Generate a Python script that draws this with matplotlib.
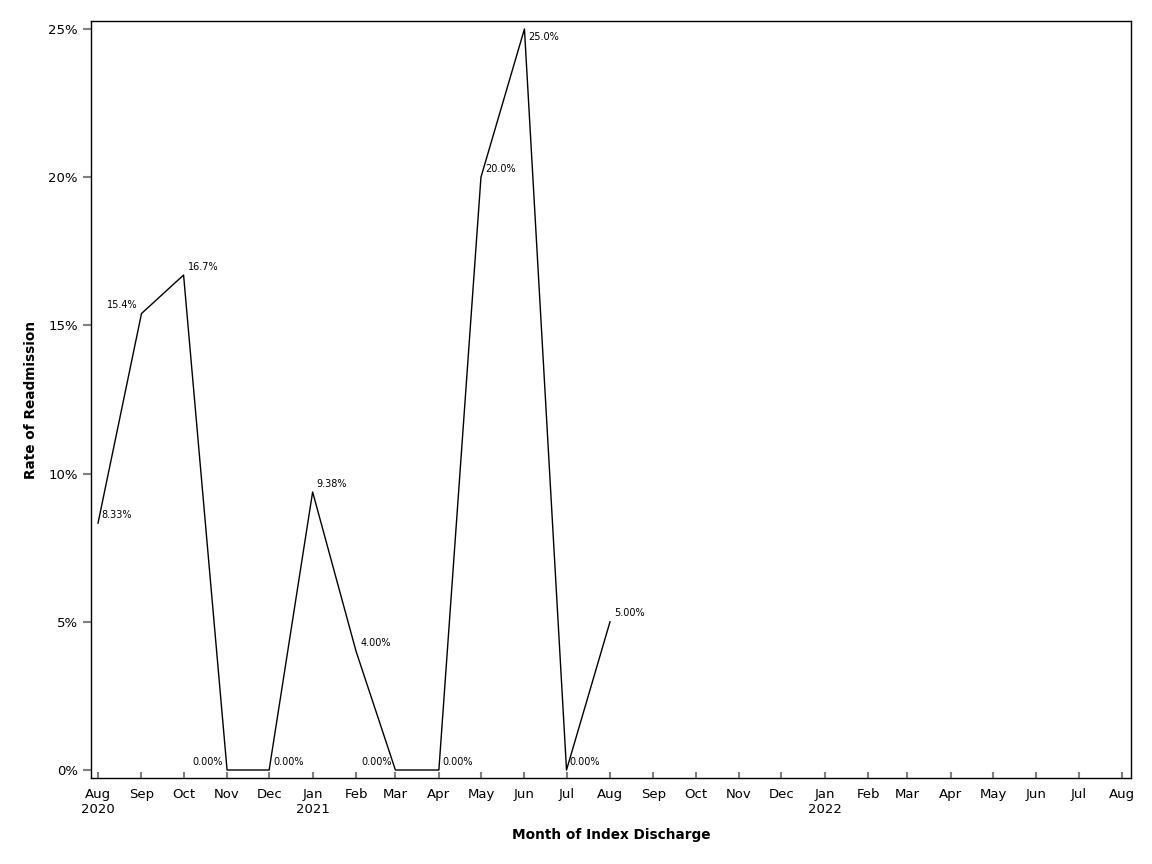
import matplotlib
matplotlib.use('Agg')
import matplotlib.pyplot as plt
from matplotlib.ticker import FuncFormatter
import datetime as dt

# Monthly readmission rates (%), Aug 2020 - Aug 2021
months = ['2020-08', '2020-09', '2020-10', '2020-11', '2020-12', '2021-01', '2021-02',
          '2021-03', '2021-04', '2021-05', '2021-06', '2021-07', '2021-08']
rates = [8.33, 15.4, 16.7, 0.0, 0.0, 9.38, 4.00, 0.0, 0.0, 20.0, 25.0, 0.0, 5.00]
labels = ['8.33%', '15.4%', '16.7%', '0.00%', '0.00%', '9.38%', '4.00%',
          '0.00%', '0.00%', '20.0%', '25.0%', '0.00%', '5.00%']
# label placement: (dx px, dy px, ha)
place = [(3, 8, 'left'), (-4, 9, 'right'), (4, 8, 'left'), (-4, 8, 'right'),
         (4, 8, 'left'), (4, 8, 'left'), (4, 8, 'left'), (-4, 8, 'right'),
         (4, 8, 'left'), (4, 8, 'left'), (4, -8, 'left'), (3, 8, 'left'),
         (4, 9, 'left')]

dates = [dt.datetime.strptime(m, '%Y-%m') for m in months]
tick_dates = [dt.datetime(2020 + (7 + i) // 12, (7 + i) % 12 + 1, 1) for i in range(25)]

plt.rcParams['font.family'] = 'DejaVu Sans'

fig = plt.figure(figsize=(11.52, 8.64), dpi=100)
ax = fig.add_axes([91 / 1152, 1 - 778 / 864, 1040 / 1152, 757 / 864])

ax.plot(dates, rates, color='black', linewidth=1)

for d, v, lab, (dx, dy, ha) in zip(dates, rates, labels, place):
    ax.annotate(lab, (d, v), xytext=(dx, dy), textcoords='offset pixels',
                ha=ha, va='center', fontsize=7)

ax.set_xlim(dt.datetime(2020, 7, 27), dt.datetime(2022, 8, 7, 10))
ax.set_ylim(-0.27, 25.27)

ax.set_xticks(tick_dates)
xt = []
for t in tick_dates:
    s = t.strftime('%b')
    if t == tick_dates[0] or t.month == 1:
        s += '\n' + str(t.year)
    xt.append(s)
ax.set_xticklabels(xt, fontsize=9.5)
ax.set_yticks([0, 5, 10, 15, 20, 25])
ax.yaxis.set_major_formatter(FuncFormatter(lambda v, p: f'{v:.0f}%'))
ax.tick_params(axis='y', labelsize=9.5, direction='out', length=6, color='gray', width=1.5)
ax.tick_params(axis='x', direction='in', length=4, color='gray', width=1.5, pad=7)

ax.set_xlabel('Month of Index Discharge', fontsize=9.8, fontweight='bold', labelpad=9)
ax.set_ylabel('Rate of Readmission', fontsize=9.8, fontweight='bold', labelpad=7)

for s in ax.spines.values():
    s.set_linewidth(1)

fig.savefig('out.png', dpi=100)
